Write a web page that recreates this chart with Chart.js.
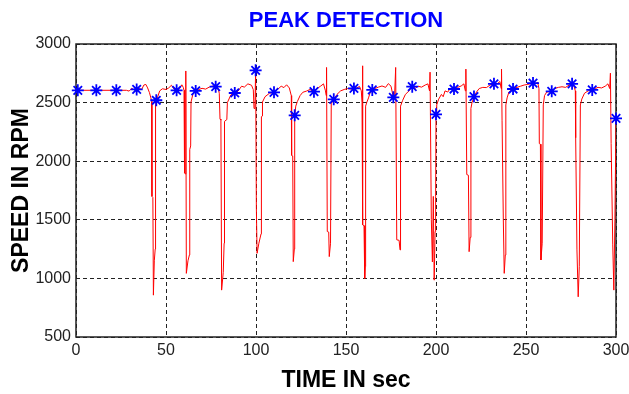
<!DOCTYPE html>
<html>
<head>
<meta charset="utf-8">
<title>Peak Detection</title>
<script src="https://cdn.jsdelivr.net/npm/chart.js@4.4.0/dist/chart.umd.min.js"></script>
<style>
  html, body { margin: 0; padding: 0; background: #fff; }
  #peak-chart { display: block; }
</style>
</head>
<body>
<canvas id="peak-chart" width="629" height="394"></canvas>
<script>
// Speed trace (time in sec, speed in rpm)
const speedTime = [
  0, 11.3, 22.4, 28, 29.5, 31, 32.3, 33.7, 35, 36.5, 37.7, 38.8, 39.8, 40.8, 41.6,
  42.0, 42.2, 42.7, 43.0, 43.5, 44.0, 44.2, 44.6, 45.5, 46.5, 48, 50, 51.5, 53, 54.5,
  55.9, 57.5, 58.8, 59.6, 60.0, 60.3, 60.8, 61.0, 61.3, 62.2, 63.0, 63.2, 63.7, 63.9,
  65, 66.5, 68, 70, 72, 74, 76, 77.6, 78.8, 79.6, 80.0, 80.5, 80.9, 81.8, 82.3, 82.5,
  83.8, 84.1, 86, 88.2, 90, 92, 93.5, 95.5, 97.5, 98.5, 98.9, 99.4, 99.8, 100.2, 100.6,
  101.6, 102.8, 103.0, 103.4, 103.6, 105, 107.5, 110, 112, 114, 115.5, 117, 118.5,
  119.6, 119.8, 120.4, 120.7, 121.3, 121.5, 122.1, 123, 124.5, 126, 128, 130, 132.2,
  134, 136, 137.5, 138.6, 139.0, 139.2, 139.6, 140.4, 140.7, 141.4, 141.8, 143.2, 145,
  147, 149, 151, 153, 154.4, 156, 157.5, 158.5, 158.9, 159.1, 159.4, 160.0, 160.4,
  160.7, 160.9, 161.5, 162.5, 163.5, 164.6, 166, 168, 170, 172, 173.5, 175, 176.3,
  177.0, 177.6, 178.2, 179.5, 180.0, 180.3, 181.5, 183, 185, 186.8, 188.5, 190, 192,
  194, 195.5, 196.4, 196.7, 197.4, 198.0, 198.5, 199.0, 199.5, 199.8, 200.0, 200.4,
  201.5, 203, 204, 205, 206.5, 208, 210, 212, 214, 215.5, 216.3, 216.6, 217.1, 218.0,
  218.4, 219.0, 219.4, 220.0, 221.1, 222.5, 224, 226, 228, 230, 232.2, 234, 235.5,
  236.2, 236.4, 236.7, 237.4, 237.9, 238.5, 238.8, 239.5, 240.5, 242.8, 245, 247, 249,
  251, 253.9, 255, 256.5, 257.2, 257.4, 258.0, 258.3, 259.0, 259.6, 260.3, 261.5,
  264.3, 266, 268, 270, 272, 274, 275.6, 276.5, 277.4, 277.6, 278.3, 279.0, 279.6,
  280.2, 281, 282.5, 284.5, 286.8, 288.5, 290, 292, 294, 295.5, 296.5, 296.9, 297.3,
  298.2, 298.8, 299.4, 300
];
const speedRpm = [
  2605, 2605, 2605, 2605, 2598, 2622, 2608, 2612, 2620, 2612, 2650, 2655, 2625, 2585, 2540,
  2510, 1700, 1690, 857, 1150, 1250, 2480, 2520, 2555, 2600, 2618, 2612, 2625, 2648, 2615,
  2605, 2618, 2652, 2630, 2605, 1900, 1890, 2770, 1043, 1150, 1200, 2100, 2130, 2505,
  2575, 2600, 2610, 2622, 2615, 2632, 2642, 2636, 2628, 2580, 2360, 2350, 900, 1050, 1300, 2340,
  2355, 2500, 2565, 2582, 2598, 2640, 2632, 2660, 2648, 2610, 2450, 2455, 2775, 1600, 1214,
  1300, 1380, 2380, 2385, 2505, 2550, 2580, 2588, 2612, 2640, 2628, 2652, 2625,
  2560, 2050, 2045, 1143, 1250, 2391, 2470, 2510, 2560, 2588, 2598, 2612, 2593,
  2620, 2642, 2660, 2600, 2560, 2800, 1400, 1395, 1186, 1300, 2490, 2528, 2570,
  2600, 2612, 2620, 2615, 2621, 2625, 2638, 2600, 2500, 2814, 1457, 1450, 1000,
  1100, 2470, 2500, 2540, 2590, 2608, 2620, 2632, 2642, 2630, 2662, 2640, 2545,
  2560, 2800, 1329, 1325, 1243, 2470, 2520, 2570, 2600, 2636, 2622, 2640, 2632,
  2650, 2660, 2600, 2760, 1500, 1140, 1700, 985, 1400, 1700, 2400, 2480,
  2530, 2570, 2550, 2600, 2590, 2622, 2616, 2630, 2642, 2660, 2600, 2786, 1886, 1880,
  1228, 1350, 2450, 2500, 2551, 2590, 2620, 2630, 2628, 2650, 2660, 2660, 2680,
  2620, 2786, 2350, 1500, 1043, 1200, 2480, 2540, 2590, 2616, 2630, 2640, 2650,
  2655, 2667, 2660, 2672, 2620, 2150, 2145, 1157, 1300, 2480, 2560, 2590,
  2596, 2620, 2630, 2635, 2630, 2650, 2660, 2650, 2600, 2200, 1243, 843, 1100,
  2480, 2530, 2580, 2600, 2608, 2620, 2630, 2625, 2640, 2660, 2620, 2751, 2150,
  1286, 900, 1500, 2365
];

// Detected peaks
const peakTime = [
  1, 11.3, 22.4, 33.7, 44.6, 55.9, 66.5, 77.6, 88.2, 99.8, 110, 121.5, 132.2, 143.2,
  154.4, 164.6, 176.3, 186.8, 200.0, 210, 221.1, 232.2, 242.8, 253.9, 264.3, 275.6, 286.8, 300
];
const peakRpm = [
  2605, 2605, 2605, 2612, 2520, 2605, 2600, 2636, 2582, 2775, 2588, 2391, 2593, 2528,
  2621, 2608, 2545, 2636, 2400, 2616, 2551, 2660, 2616, 2667, 2596, 2660, 2608, 2365
];

const X_TICKS = [0, 50, 100, 150, 200, 250, 300];
const Y_TICKS = [500, 1000, 1500, 2000, 2500, 3000];

const FONT_FAMILY = "'Liberation Sans', Arial, Helvetica, sans-serif";
const LINE_COLOR = "#ff0000";
const PEAK_COLOR = "#0000ff";
const AXIS_COLOR = "#222222";

const toPoints = (xs, ys) => xs.map((x, i) => ({ x, y: ys[i] }));

// Solid box around the plot area (all four sides)
const frameBox = {
  id: "frameBox",
  beforeDatasetsDraw(chart) {
    const { ctx, chartArea } = chart;
    ctx.save();
    ctx.strokeStyle = AXIS_COLOR;
    ctx.lineWidth = 1.5;
    ctx.setLineDash([]);
    ctx.strokeRect(chartArea.left, chartArea.top, chartArea.right - chartArea.left, chartArea.bottom - chartArea.top);
    ctx.restore();
  },
};

const peakChart = new Chart(document.getElementById("peak-chart"), {
  type: "line",
  data: {
    datasets: [
      {
        label: "Peaks",
        data: toPoints(peakTime, peakRpm),
        showLine: false,
        pointStyle: "star",
        pointRadius: 6,
        pointBorderWidth: 1.8,
        pointBorderColor: PEAK_COLOR,
        pointBackgroundColor: PEAK_COLOR,
        clip: false,
      },
      {
        label: "Speed",
        data: toPoints(speedTime, speedRpm),
        borderColor: LINE_COLOR,
        borderWidth: 1,
        pointRadius: 0,
        tension: 0,
      },
    ],
  },
  options: {
    responsive: false,
    animation: false,
    devicePixelRatio: 1,
    layout: { padding: { left: 0, right: 13, top: 0, bottom: 0 } },
    plugins: {
      legend: { display: false },
      tooltip: { enabled: false },
      title: {
        display: true,
        text: "PEAK DETECTION",
        color: PEAK_COLOR,
        fullSize: false,
        font: { family: FONT_FAMILY, size: 22, weight: "bold", lineHeight: 1.2 },
        padding: { top: 8, bottom: 9.6 },
      },
    },
    scales: {
      x: {
        type: "linear",
        min: 0,
        max: 300,
        afterFit: (scale) => {
          scale.height = 57;
          scale.paddingLeft = 0;
          scale.paddingRight = 13;
        },
        afterBuildTicks: (scale) => { scale.ticks = X_TICKS.map((value) => ({ value })); },
        ticks: {
          color: AXIS_COLOR,
          padding: 4,
          maxRotation: 0,
          font: { family: FONT_FAMILY, size: 16 },
          callback: (v) => String(v),
        },
        grid: { color: AXIS_COLOR, lineWidth: 1, drawTicks: false },
        border: { display: false, dash: [4, 3] },
        title: {
          display: true,
          text: "TIME IN sec",
          color: "#000",
          font: { family: FONT_FAMILY, size: 23, weight: "bold", lineHeight: 1.2 },
          padding: { top: 0, bottom: 0 },
        },
      },
      y: {
        type: "linear",
        min: 500,
        max: 3000,
        afterFit: (scale) => { scale.width = 76; },
        afterBuildTicks: (scale) => { scale.ticks = Y_TICKS.map((value) => ({ value })); },
        ticks: {
          color: AXIS_COLOR,
          padding: 5,
          font: { family: FONT_FAMILY, size: 16 },
          callback: (v) => String(v),
        },
        grid: { color: AXIS_COLOR, lineWidth: 1, drawTicks: false },
        border: { display: false, dash: [4, 3] },
        title: {
          display: true,
          text: "SPEED IN RPM",
          color: "#000",
          font: { family: FONT_FAMILY, size: 23, weight: "bold", lineHeight: 1.2 },
          padding: { top: 8, bottom: 0 },
        },
      },
    },
  },
  plugins: [frameBox],
});
</script>
</body>
</html>
